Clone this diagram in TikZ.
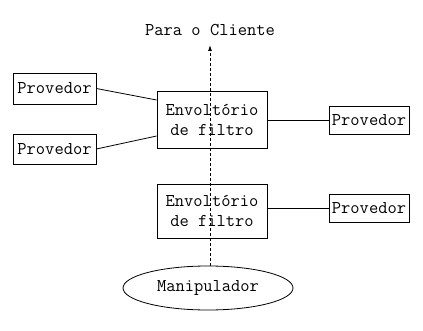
\documentclass[tikz,border=0pt]{standalone}
\usepackage{fontspec}
\usetikzlibrary{shapes.geometric,arrows.meta}
\begin{document}
\begin{tikzpicture}[x=1pt,y=-1pt,
  every node/.style={font=\ttfamily\fontsize{18}{20}\selectfont},
  box/.style={draw,line width=0.8pt,inner sep=0pt,align=center},
  conn/.style={line width=0.8pt}]
\useasboundingbox (0,0) rectangle (423,331);
\node[box,minimum width=83,minimum height=31] (p1) at (54.5,88.5) {Provedor};
\node[box,minimum width=83,minimum height=30] (p2) at (54.5,149) {Provedor};
\node[box,minimum width=80,minimum height=28] (p3) at (369,120) {Provedor};
\node[box,minimum width=80,minimum height=28] (p4) at (369,208) {Provedor};
\node[box,minimum width=110,minimum height=57] (e1) at (212,119.5) {Envolt\'orio\\de filtro};
\node[box,minimum width=110,minimum height=54] (e2) at (212,211) {Envolt\'orio\\de filtro};
\node[draw,ellipse,line width=0.8pt,minimum width=170,minimum height=44,inner sep=0pt] (m) at (208,288) {Manipulador};
\node (c) at (210,30) {Para o Cliente};
\coordinate (tip) at (210,45);
\draw[conn] (p1.east) -- (e1.west |- 0,100);
\draw[conn] (p2.east) -- (e1.west |- 0,136);
\draw[conn] (e1.east |- p3) -- (p3.west);
\draw[conn] (e2.east |- p4) -- (p4.west);
\draw[conn,dashed,dash pattern=on 3pt off 2pt,-{Latex[length=6pt,width=4pt]}] (m.north -| tip) -- (tip);
\end{tikzpicture}
\end{document}
